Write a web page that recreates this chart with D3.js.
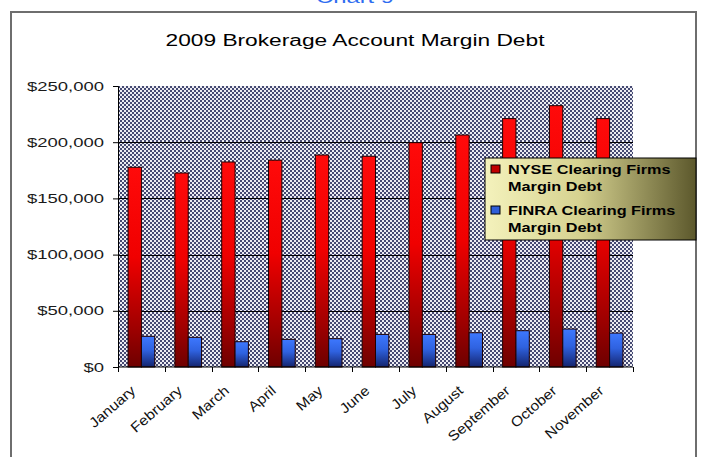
<!DOCTYPE html>
<html>
<head>
<meta charset="utf-8">
<script src="https://cdn.jsdelivr.net/npm/d3@7"></script>
<style>
  body { margin: 0; background: #fff; }
  text { font-family: Arial, "Liberation Sans", sans-serif; }
</style>
</head>
<body>
<div id="chart"></div>
<script>
var months = ["January","February","March","April","May","June","July","August","September","October","November"];
var nyse  = [177700,172600,182400,184000,188600,187500,199600,206400,221000,232500,221000];
var finra = [27300,26400,22500,24600,25200,29000,29000,30500,32300,33800,30200];
var seriesNames = ["NYSE Clearing Firms Margin Debt","FINRA Clearing Firms Margin Debt"];
var yTicks = [0,50000,100000,150000,200000,250000];

var width = 706, height = 457;
var margin = {top:86, right:73, bottom:90, left:118};

var svg = d3.select("#chart").append("svg")
    .attr("width", width)
    .attr("height", height);

var defs = svg.append("defs");

// checkered plot background
var pat = defs.append("pattern")
    .attr("id","checker")
    .attr("patternUnits","userSpaceOnUse")
    .attr("width",4).attr("height",4);
pat.append("rect").attr("width",4).attr("height",4).attr("fill","#ececf2");
pat.append("rect").attr("width",2).attr("height",2).attr("fill","#464a72");
pat.append("rect").attr("x",2).attr("y",2).attr("width",2).attr("height",2).attr("fill","#464a72");

function vgrad(id, stops){
    var g = defs.append("linearGradient").attr("id",id)
        .attr("x1",0).attr("y1",0).attr("x2",0).attr("y2",1);
    stops.forEach(function(s){
        g.append("stop").attr("offset",s[0]).attr("stop-color",s[1]);
    });
}
vgrad("redg", [[0,"#ff0a0a"],[0.45,"#f00000"],[0.8,"#a00000"],[1,"#6e0000"]]);
vgrad("blueg", [[0,"#3d78ff"],[0.45,"#2f62e0"],[1,"#14246e"]]);

var lg = defs.append("linearGradient").attr("id","legendg")
    .attr("x1",0).attr("y1",0).attr("x2",1).attr("y2",0);
lg.append("stop").attr("offset",0).attr("stop-color","#f4f2bc");
lg.append("stop").attr("offset",0.45).attr("stop-color","#d6d290");
lg.append("stop").attr("offset",1).attr("stop-color","#5c582c");

// stretch text horizontally like the source picture
function stretch(sel, k){
    sel.each(function(){
        var w = this.getComputedTextLength();
        d3.select(this).attr("textLength", w*k).attr("lengthAdjust","spacingAndGlyphs");
    });
}

// outer chart frame
svg.append("rect")
    .attr("x",11).attr("y",12)
    .attr("width",685).attr("height",470)
    .attr("fill","#fff")
    .attr("stroke","#6e6e6e")
    .attr("stroke-width",2);

svg.append("text")
    .attr("x",355).attr("y",3)
    .attr("text-anchor","middle")
    .style("font-size","17px")
    .attr("fill","#2e6cf0")
    .text("Chart 9")
    .call(stretch,1.4);

svg.append("text")
    .attr("x",355).attr("y",46)
    .attr("text-anchor","middle")
    .style("font-size","16px")
    .attr("fill","#000")
    .text("2009 Brokerage Account Margin Debt")
    .call(stretch,1.42);

var x0 = d3.scaleBand().domain(months).range([margin.left, width - margin.right]);
var bw = x0.bandwidth();
var x1 = d3.scaleBand().domain(seriesNames).range([bw*0.215, bw*0.785]);
var y = d3.scaleLinear().domain([0,250000]).range([height - margin.bottom, margin.top]);

// plot background
svg.append("rect")
    .attr("x", margin.left).attr("y", y(250000))
    .attr("width", x0.range()[1] - margin.left)
    .attr("height", y(0) - y(250000))
    .attr("fill","url(#checker)");

// gridlines
svg.append("g").selectAll("line")
    .data(yTicks.filter(function(d){ return d > 0 && d < 250000; }))
    .enter().append("line")
    .attr("x1", margin.left).attr("x2", x0.range()[1])
    .attr("y1", function(d){ return Math.round(y(d)) + 0.5; })
    .attr("y2", function(d){ return Math.round(y(d)) + 0.5; })
    .attr("stroke","#000").attr("stroke-width",1);

// bars
var data = months.map(function(m,i){
    return {month:m, vals:[{s:seriesNames[0], v:nyse[i], f:"url(#redg)"},{s:seriesNames[1], v:finra[i], f:"url(#blueg)"}]};
});
var groups = svg.append("g").selectAll("g")
    .data(data).enter().append("g")
    .attr("transform", function(d){ return "translate(" + x0(d.month) + ",0)"; });
groups.selectAll("rect")
    .data(function(d){ return d.vals; })
    .enter().append("rect")
    .attr("x", function(d){ return x1(d.s); })
    .attr("y", function(d){ return y(d.v); })
    .attr("width", x1.bandwidth())
    .attr("height", function(d){ return y(0) - y(d.v); })
    .attr("fill", function(d){ return d.f; })
    .attr("stroke","#200000")
    .attr("stroke-width",1);

// y axis
var fmt = d3.format("$,.0f");
var yAxis = svg.append("g")
    .attr("transform","translate(" + margin.left + ",0)")
    .call(d3.axisLeft(y).tickValues(yTicks).tickFormat(fmt).tickSize(5).tickPadding(9));
yAxis.select(".domain").attr("stroke","#000");
yAxis.selectAll(".tick line").attr("stroke","#000");
yAxis.selectAll("text")
    .style("font-size","13px")
    .style("font-family","Arial, 'Liberation Sans', sans-serif")
    .attr("fill","#1a1a1a")
    .call(stretch,1.42);

// x axis line + ticks at band edges
var xg = svg.append("g");
xg.append("line")
    .attr("x1", margin.left).attr("x2", x0.range()[1])
    .attr("y1", y(0)).attr("y2", y(0))
    .attr("stroke","#000");
var edges = months.map(function(m){ return x0(m); }).concat([x0.range()[1]]);
xg.selectAll(".xt").data(edges).enter().append("line")
    .attr("class","xt")
    .attr("x1", function(d){ return Math.round(d)+0.5; })
    .attr("x2", function(d){ return Math.round(d)+0.5; })
    .attr("y1", y(0)).attr("y2", y(0)+5)
    .attr("stroke","#000");
xg.selectAll(".xl").data(months).enter().append("text")
    .attr("class","xl")
    .attr("text-anchor","end")
    .attr("transform", function(d){
        return "translate(" + (x0(d) + bw/2 - 5) + "," + (y(0) + 25) + ") rotate(-41)";
    })
    .style("font-size","14px")
    .attr("fill","#111")
    .text(function(d){ return d; })
    .call(stretch,1.12);

// legend
var leg = svg.append("g");
leg.append("rect")
    .attr("x",485).attr("y",158)
    .attr("width",211).attr("height",82)
    .attr("fill","url(#legendg)")
    .attr("stroke","#000").attr("stroke-width",1);
var legRows = [
    {lines:["NYSE Clearing Firms","Margin Debt"], f:"#c00000", y:174},
    {lines:["FINRA Clearing Firms","Margin Debt"], f:"#2f5fd8", y:215}
];
legRows.forEach(function(r){
    leg.append("rect")
        .attr("x",491).attr("y",r.y-9)
        .attr("width",9).attr("height",8)
        .attr("fill",r.f).attr("stroke","#000");
    r.lines.forEach(function(t,j){
        leg.append("text")
            .attr("x",508).attr("y",r.y + j*17)
            .style("font-size","13px")
            .style("font-weight","bold")
            .attr("fill","#000")
            .text(t)
            .call(stretch,1.25);
    });
});
</script>
</body>
</html>
